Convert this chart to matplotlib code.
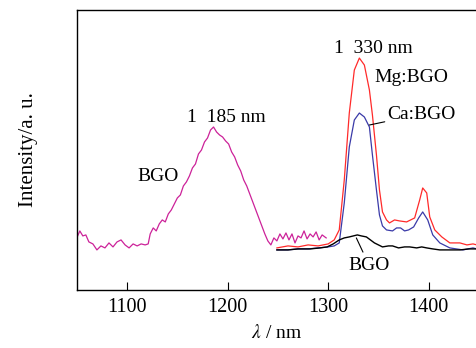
import numpy as np
import matplotlib.pyplot as plt

plt.rcParams['font.family'] = ['Liberation Serif', 'DejaVu Serif']
plt.rcParams['mathtext.fontset'] = 'stix'

# BGO, 808 nm band (magenta)
wl_bgo1 = [1050, 1053, 1056, 1059, 1062, 1066, 1070, 1074, 1078, 1082, 1086, 1090, 1094,
           1098, 1102, 1106, 1110, 1114, 1118, 1121, 1123, 1126, 1129, 1132, 1135, 1138,
           1141, 1144, 1147, 1150, 1153, 1156, 1159, 1162, 1165, 1168, 1171, 1174, 1177,
           1180, 1183, 1186, 1189, 1192, 1195, 1198, 1201, 1204, 1207, 1210, 1213, 1216,
           1219, 1222, 1225, 1228, 1231, 1234, 1237, 1240, 1243, 1246, 1249, 1252, 1255,
           1258, 1261, 1264, 1267, 1270, 1273, 1276, 1279, 1282, 1285, 1288, 1291, 1294, 1298]
int_bgo1 = [52, 59, 54, 55, 48, 46, 40, 44, 42, 47, 43, 48, 50, 45, 42, 46, 44, 46, 45, 46,
            56, 62, 59, 66, 70, 68, 76, 80, 86, 92, 95, 104, 108, 114, 122, 126, 136, 140,
            148, 152, 160, 163, 158, 155, 153, 149, 146, 138, 133, 125, 119, 110, 104, 96,
            88, 80, 72, 64, 56, 49, 45, 52, 49, 56, 51, 57, 50, 56, 47, 54, 52, 59, 51, 56,
            53, 58, 50, 55, 52]

# 1.3 um band
wl_mg = [1249, 1260, 1270, 1280, 1290, 1300, 1306, 1311, 1316, 1321, 1326, 1331, 1336,
         1341, 1344, 1348, 1351, 1354, 1358, 1361, 1366, 1371, 1378, 1386, 1391, 1394,
         1398, 1401, 1406, 1413, 1421, 1431, 1438, 1444, 1448]
int_mg = [42, 44, 43, 45, 44, 46, 50, 60, 110, 177, 220, 232, 225, 200, 175, 135, 100,
          78, 70, 67, 70, 69, 68, 72, 90, 102, 97, 73, 60, 53, 47, 47, 45, 46, 45]

wl_ca = [1249, 1260, 1270, 1280, 1290, 1300, 1306, 1311, 1316, 1321, 1326, 1331, 1336,
         1341, 1344, 1348, 1351, 1354, 1358, 1364, 1368, 1372, 1376, 1380, 1385, 1390,
         1394, 1399, 1404, 1411, 1421, 1434, 1444, 1448]
int_ca = [40, 40, 41, 41, 42, 43, 44, 47, 87, 143, 170, 177, 173, 163, 135, 100, 75, 64,
          60, 59, 62, 62, 59, 60, 63, 72, 78, 70, 55, 47, 42, 40, 42, 41]

wl_bgo2 = [1249, 1260, 1270, 1282, 1292, 1299, 1305, 1311, 1316, 1321, 1325, 1329, 1333,
           1338, 1342, 1346, 1350, 1354, 1360, 1364, 1370, 1376, 1381, 1388, 1393, 1398,
           1404, 1411, 1420, 1431, 1440, 1448]
int_bgo2 = [40, 40, 41, 41, 42, 43, 46, 50, 52, 53, 54, 55, 54, 53, 50, 47, 45, 43, 44,
            44, 42, 43, 43, 42, 43, 42, 41, 40, 40, 40, 41, 41]

fig = plt.figure(figsize=(4.77, 3.48), dpi=100)
ax = fig.add_axes([0.161, 0.167, 0.839, 0.804])

ax.plot(wl_bgo1, int_bgo1, color='#cc2299', lw=0.9)
ax.plot(wl_mg, int_mg, color='#ff2a2a', lw=0.9)
ax.plot(wl_ca, int_ca, color='#3a3aa8', lw=0.9)
ax.plot(wl_bgo2, int_bgo2, color='black', lw=1.0)

fs = 14
ax.text(1199, 173, '1  185 nm', fontsize=fs, ha='center', va='center')
ax.text(1131, 113, 'BGO', fontsize=fs, ha='center', va='center')
ax.text(1345, 242, '1  330 nm', fontsize=fs, ha='center', va='center')
ax.text(1346, 213, 'Mg:BGO', fontsize=fs, ha='left', va='center')
ax.annotate('Ca:BGO', xy=(1341, 165), xytext=(1359, 176), fontsize=fs,
            ha='left', va='center',
            arrowprops=dict(arrowstyle='-', color='black', lw=0.8, shrinkA=0, shrinkB=0))
ax.annotate('BGO', xy=(1328, 52), xytext=(1341, 24), fontsize=fs,
            ha='center', va='center',
            arrowprops=dict(arrowstyle='-', color='black', lw=0.8, shrinkA=2, shrinkB=0))

ax.set_xlim(1050, 1448)
ax.set_ylim(0, 280)
ax.set_xticks([1100, 1200, 1300, 1400])
ax.set_yticks([])
ax.tick_params(axis='x', direction='in', length=6, width=0.8, labelsize=14.5, pad=6)
ax.spines['right'].set_visible(False)
for s in ['left', 'bottom', 'top']:
    ax.spines[s].set_linewidth(1.0)

ax.set_xlabel(r'$\lambda$ / nm', fontsize=14, labelpad=5)
ax.set_ylabel('Intensity/a. u.', fontsize=15, labelpad=28)

plt.savefig('out.png', dpi=100)
